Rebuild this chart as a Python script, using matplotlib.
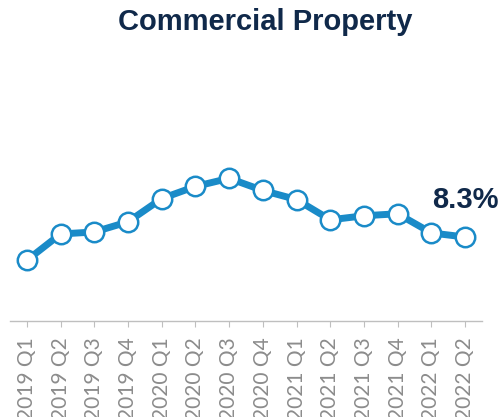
import matplotlib
matplotlib.use('Agg')
import matplotlib.pyplot as plt

quarters = ['2019 Q1', '2019 Q2', '2019 Q3', '2019 Q4',
            '2020 Q1', '2020 Q2', '2020 Q3', '2020 Q4',
            '2021 Q1', '2021 Q2', '2021 Q3', '2021 Q4',
            '2022 Q1', '2022 Q2']
values = [6.0, 8.6, 8.8, 9.8, 12.1, 13.3, 14.1, 12.9, 12.0, 10.0, 10.4, 10.6, 8.7, 8.3]
title = 'Commercial Property'

blue = '#1a8bc8'
navy = '#10294a'

fig = plt.figure(figsize=(4.98, 4.17), dpi=100)
ax = fig.add_axes([10 / 498, 96 / 417, 472 / 498, 171 / 417])

x = list(range(len(values)))
ax.plot(x, values, color=blue, linewidth=5, marker='o', markersize=14,
        markerfacecolor='white', markeredgecolor=blue, markeredgewidth=1.8,
        solid_capstyle='round', clip_on=False, zorder=3)

# value callout above the latest quarter
ax.annotate(f'{values[-1]:.1f}%', (x[-1], values[-1]), xytext=(0, 27),
            textcoords='offset points', ha='center', va='center',
            fontsize=21, fontweight='bold', color=navy, family='Liberation Sans')

ax.set_xlim(-0.5, len(values) - 0.5)
ax.set_ylim(0, 16.9)
ax.set_xticks(x)
ax.set_xticklabels(quarters, rotation=90, fontsize=15, color='#8c8c8c',
                   family='Lato')
ax.set_yticks([])
for side in ['top', 'right', 'left']:
    ax.spines[side].set_visible(False)
ax.spines['bottom'].set_color('#bfbfbf')
ax.spines['bottom'].set_linewidth(1)
ax.tick_params(axis='x', length=4, color='#bfbfbf', pad=8)
ax.patch.set_visible(False)

fig.text(265 / 498, 1 - 22 / 417, title, ha='center', va='center',
         fontsize=21, fontweight='bold', color=navy, family='Liberation Sans')

fig.savefig('out.png', dpi=100)
